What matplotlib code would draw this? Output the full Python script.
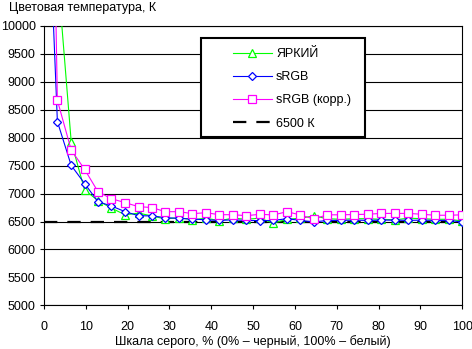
import matplotlib
matplotlib.use('Agg')
import matplotlib.pyplot as plt
from matplotlib.lines import Line2D
from matplotlib.patches import Rectangle

plt.rcParams['font.family'] = ['Liberation Sans', 'DejaVu Sans']

# шкала серого, %
gray = [0, 3.2, 6.5, 9.7, 12.9, 16.1, 19.4, 22.6, 25.8, 29.0, 32.3, 35.5,
        38.7, 41.9, 45.2, 48.4, 51.6, 54.8, 58.1, 61.3, 64.5, 67.7, 71.0,
        74.2, 77.4, 80.6, 83.9, 87.1, 90.3, 93.5, 96.8, 100]

bright = [15000, 11000, 7930, 7065, 6875, 6740, 6620, 6650, 6600, 6545,
          6570, 6530, 6560, 6515, 6560, 6540, 6560, 6470, 6540, 6560, 6600,
          6550, 6540, 6550, 6550, 6540, 6530, 6560, 6550, 6540, 6540, 6510]

srgb = [14200, 8290, 7505, 7180, 6855, 6778, 6676, 6604, 6600, 6570, 6555,
        6545, 6530, 6520, 6530, 6520, 6515, 6520, 6550, 6520, 6490, 6520,
        6520, 6525, 6520, 6525, 6525, 6520, 6525, 6520, 6520, 6490]

srgb_corr = [22000, 8670, 7780, 7435, 7034, 6909, 6837, 6766, 6750, 6676,
             6676, 6640, 6658, 6622, 6622, 6604, 6630, 6617, 6676, 6617, 6545,
             6620, 6620, 6625, 6630, 6645, 6645, 6645, 6630, 6612, 6612, 6620]

ref_temp = 6500
labels = ['ЯРКИЙ', 'sRGB', 'sRGB (корр.)', '6500 К']

W, H = 472, 349
fig = plt.figure(figsize=(W / 100, H / 100), dpi=100)
ax = fig.add_axes([44 / W, 1 - 305.3 / H, (462.3 - 44) / W, (305.3 - 26) / H])

dash = (0, (6, 4.5))
ax.axhline(ref_temp, color='black', lw=1.6, ls=dash, zorder=2)
ax.plot(gray, bright, color='#00ff00', lw=0.8, marker='^', ms=6,
        mfc='white', mec='#00ff00', mew=0.9, zorder=3)
ax.plot(gray, srgb, color='#0000ff', lw=0.8, marker='D', ms=4.3,
        mfc='white', mec='#0000ff', mew=0.9, zorder=4)
ax.plot(gray, srgb_corr, color='#ff00ff', lw=0.8, marker='s', ms=5.5,
        mfc='white', mec='#ff00ff', mew=0.9, zorder=5)

ax.set_xlim(0, 100)
ax.set_ylim(5000, 10000)
ax.set_xticks(range(0, 101, 10))
ax.set_yticks(range(5000, 10001, 500))
ax.yaxis.grid(True, color='black', lw=0.8)
ax.set_axisbelow(True)
for s in ax.spines.values():
    s.set_color('black')
    s.set_linewidth(0.8)
ax.tick_params(direction='out', length=3, width=0.8, labelsize=9, colors='black')
ax.tick_params(axis='y', pad=3)
ax.tick_params(axis='x', pad=8)

fig.text(9 / W, 1 - 8 / H, 'Цветовая температура, К', fontsize=9, va='center', ha='left')
fig.text(253 / W, 1 - 341.5 / H, 'Шкала серого, % (0% – черный, 100% – белый)',
         fontsize=9, va='center', ha='center')

# рамка легенды
fig.add_artist(Rectangle((201 / W, 1 - 137 / H), (365 - 201) / W, (137 - 38) / H,
                         transform=fig.transFigure, facecolor='white',
                         edgecolor='black', lw=1.5, zorder=4))
handles = [
    Line2D([], [], color='#00ff00', lw=0.8, marker='^', ms=6, mfc='white', mew=0.9),
    Line2D([], [], color='#0000ff', lw=0.8, marker='D', ms=4.3, mfc='white', mew=0.9),
    Line2D([], [], color='#ff00ff', lw=0.8, marker='s', ms=5.5, mfc='white', mew=0.9),
    Line2D([], [], color='black', lw=1.6, ls=dash),
]
leg = fig.legend(handles, labels, loc='upper left', bbox_to_anchor=(233 / W, 1 - 48 / H),
                 frameon=False, fontsize=9, handlelength=3.1, handletextpad=0.35,
                 labelspacing=0.9, borderpad=0, borderaxespad=0)
leg.set_zorder(6)

fig.savefig('out.png', dpi=100)
